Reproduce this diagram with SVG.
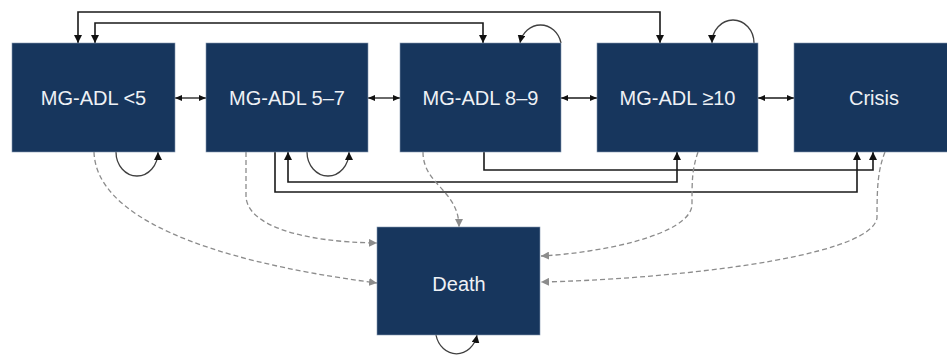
<svg xmlns="http://www.w3.org/2000/svg" width="947" height="360" viewBox="0 0 947 360">
<style>
.box{fill:#17365d;stroke:#8497b0;stroke-width:0.6}
.lbl{font-family:"Liberation Sans",Arial,sans-serif;font-size:20px;fill:#eef1f5;text-anchor:middle;dominant-baseline:central}
.solid{fill:none;stroke:#1a1a1a;stroke-width:1.6}
.loop{fill:none;stroke:#404040;stroke-width:1.3}
.bi{fill:none;stroke:#1a1a1a;stroke-width:1.3}
.dash{fill:none;stroke:#8c8c8c;stroke-width:1.3;stroke-dasharray:5,3}
</style>
<defs>
<marker id="a" markerUnits="userSpaceOnUse" markerWidth="8" markerHeight="8" refX="8" refY="4" orient="auto-start-reverse"><path d="M0,0 L8,4 L0,8 z" fill="#111"/></marker>
<marker id="s" markerUnits="userSpaceOnUse" markerWidth="7" markerHeight="6" refX="7" refY="3" orient="auto-start-reverse"><path d="M0,0 L7,3 L0,6 z" fill="#111"/></marker>
<marker id="g" markerUnits="userSpaceOnUse" markerWidth="8" markerHeight="8" refX="8" refY="4" orient="auto"><path d="M0,0 L8,4 L0,8 z" fill="#8c8c8c"/></marker>
</defs>
<g id="connectors">
<path class="solid" d="M78,43 V12 H660 V43" marker-start="url(#a)" marker-end="url(#a)"/>
<path class="solid" d="M95,43 V23 H483 V43" marker-start="url(#a)" marker-end="url(#a)"/>
<path class="loop" d="M561,43 A21,23 0 0 0 520,43" marker-end="url(#a)"/>
<path class="loop" d="M754,43 A21,23 0 0 0 712,43" marker-end="url(#a)"/>
<path class="loop" d="M116,152 A21,24 0 0 0 158,152" marker-end="url(#a)"/>
<path class="loop" d="M307,152 A21,24 0 0 0 349,152" marker-end="url(#a)"/>
<path class="loop" d="M436,335 A21,24 0 0 0 477,335" marker-end="url(#a)"/>
<path class="bi" d="M175,98 H206" marker-start="url(#s)" marker-end="url(#s)"/>
<path class="bi" d="M368,98 H400" marker-start="url(#s)" marker-end="url(#s)"/>
<path class="bi" d="M561,98 H597" marker-start="url(#s)" marker-end="url(#s)"/>
<path class="bi" d="M758,98 H794" marker-start="url(#s)" marker-end="url(#s)"/>
<path class="solid" d="M484,152 V170 H873 V152" marker-end="url(#a)"/>
<path class="solid" d="M288,152 V182 H677 V152" marker-start="url(#a)" marker-end="url(#a)"/>
<path class="solid" d="M275,152 V192 H857 V152" marker-end="url(#a)"/>
<path class="dash" d="M94,152 C96,215 200,260 377,283" marker-end="url(#g)"/>
<path class="dash" d="M246,152 V197 C248,225 300,242 377,243" marker-end="url(#g)"/>
<path class="dash" d="M423,152 C423,185 459,190 459,227" marker-end="url(#g)"/>
<path class="dash" d="M698,152 C692,170 692,180 692,205 C690,235 600,253 541,256" marker-end="url(#g)"/>
<path class="dash" d="M885,152 C878,170 877,185 877,218 C870,260 650,280 541,282" marker-end="url(#g)"/>
</g>
<g id="n1"><rect class="box" x="12" y="43" width="163" height="109"/><text class="lbl" x="93.5" y="98">MG-ADL &lt;5</text></g>
<g id="n2"><rect class="box" x="206" y="43" width="162" height="109"/><text class="lbl" x="287" y="98">MG-ADL 5–7</text></g>
<g id="n3"><rect class="box" x="400" y="43" width="161" height="109"/><text class="lbl" x="480.5" y="98">MG-ADL 8–9</text></g>
<g id="n4"><rect class="box" x="597" y="43" width="161" height="109"/><text class="lbl" x="677.5" y="98">MG-ADL ≥10</text></g>
<g id="n5"><rect class="box" x="794" y="43" width="162" height="109"/><text class="lbl" x="874" y="98">Crisis</text></g>
<g id="death"><rect class="box" x="377" y="227" width="163" height="108"/><text class="lbl" x="459" y="284">Death</text></g>
</svg>
